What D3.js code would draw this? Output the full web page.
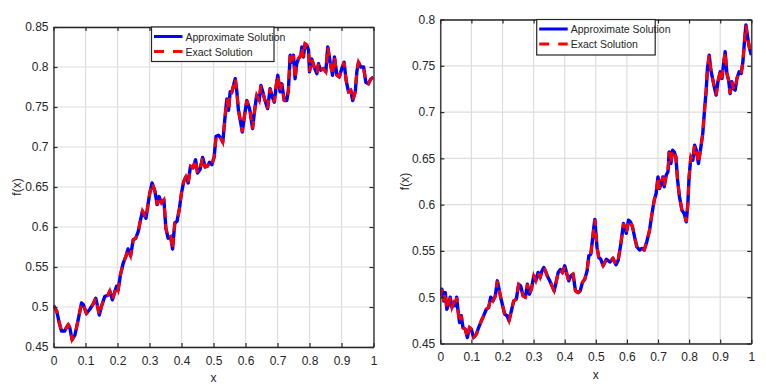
<!DOCTYPE html>
<html>
<head>
<meta charset="utf-8">
<script src="https://cdn.jsdelivr.net/npm/d3@7"></script>
<style>
  body { margin: 0; background: #fff; }
  svg text { font-family: "Liberation Sans Narrow", "Arial Narrow", "Liberation Sans", Arial, sans-serif; fill: #262626; }
</style>
</head>
<body>
<svg id="chart" width="766" height="386"></svg>
<script>
// left panel
var leftX = [0, 0.01, 0.018, 0.025, 0.035, 0.04, 0.046, 0.051, 0.058, 0.067, 0.077, 0.0875, 0.093, 0.103, 0.114, 0.124, 0.132, 0.137, 0.143, 0.15,
  0.16, 0.171, 0.176, 0.184, 0.19, 0.197, 0.202, 0.209, 0.218, 0.226, 0.233, 0.241, 0.249, 0.257, 0.265, 0.27, 0.278, 0.289, 0.296, 0.301,
  0.308, 0.317, 0.324, 0.33, 0.3375, 0.345, 0.351, 0.358, 0.366, 0.372, 0.379, 0.386, 0.393, 0.4, 0.407, 0.414, 0.421, 0.428, 0.436, 0.444,
  0.45, 0.458, 0.466, 0.474, 0.481, 0.4875, 0.495, 0.502, 0.508, 0.5156, 0.523, 0.529, 0.536, 0.5417, 0.547, 0.552, 0.557, 0.5625, 0.568, 0.573,
  0.578, 0.583, 0.59, 0.597, 0.604, 0.611, 0.6146, 0.622, 0.628, 0.635, 0.643, 0.648, 0.654, 0.661, 0.669, 0.677, 0.682, 0.69, 0.696, 0.701,
  0.708, 0.7135, 0.721, 0.729, 0.734, 0.7396, 0.745, 0.75, 0.755, 0.76, 0.7656, 0.773, 0.776, 0.781, 0.786, 0.7917, 0.797, 0.8, 0.807, 0.8146,
  0.823, 0.828, 0.835, 0.844, 0.851, 0.857, 0.8646, 0.872, 0.878, 0.8854, 0.893, 0.901, 0.908, 0.9146, 0.922, 0.929, 0.935, 0.943, 0.948, 0.953,
  0.96, 0.969, 0.976, 0.984, 0.9917, 1.0];
var leftExact = [0.502, 0.495, 0.48, 0.47, 0.47, 0.474, 0.478, 0.474, 0.459, 0.465, 0.484, 0.505, 0.503, 0.492, 0.4975, 0.504, 0.511, 0.502, 0.49, 0.501,
  0.513, 0.515, 0.52, 0.509, 0.517, 0.526, 0.521, 0.54, 0.555, 0.563, 0.5725, 0.564, 0.584, 0.586, 0.5946, 0.605, 0.62, 0.611, 0.63, 0.6425,
  0.655, 0.6446, 0.628, 0.638, 0.63, 0.634, 0.599, 0.586, 0.588, 0.5725, 0.605, 0.607, 0.6217, 0.6425, 0.657, 0.663, 0.655, 0.676, 0.674, 0.684,
  0.6675, 0.672, 0.687, 0.675, 0.676, 0.681, 0.678, 0.6875, 0.7133, 0.7146, 0.711, 0.706, 0.7375, 0.76, 0.7458, 0.769, 0.768, 0.777, 0.7854, 0.769,
  0.7458, 0.735, 0.7188, 0.7396, 0.758, 0.75, 0.7438, 0.723, 0.744, 0.7646, 0.758, 0.777, 0.769, 0.758, 0.748, 0.773, 0.7646, 0.756, 0.777, 0.7896,
  0.769, 0.779, 0.758, 0.758, 0.7708, 0.8146, 0.806, 0.8146, 0.7854, 0.804, 0.8104, 0.8146, 0.825, 0.8125, 0.829, 0.827, 0.821, 0.794, 0.81, 0.8,
  0.7917, 0.804, 0.796, 0.798, 0.794, 0.825, 0.806, 0.7896, 0.8125, 0.79, 0.7875, 0.798, 0.806, 0.783, 0.769, 0.771, 0.758, 0.769, 0.794, 0.806,
  0.8, 0.8, 0.781, 0.779, 0.785, 0.7875];
var leftApprox = leftExact.slice();

// right panel
var rightX = [0, 0.005, 0.011, 0.016, 0.021, 0.027, 0.032, 0.0375, 0.043, 0.048, 0.0526, 0.057, 0.062, 0.0676, 0.073, 0.08, 0.087, 0.094, 0.0998, 0.107,
  0.116, 0.123, 0.132, 0.1395, 0.148, 0.1556, 0.162, 0.1695, 0.177, 0.1835, 0.188, 0.194, 0.2017, 0.207, 0.2146, 0.221, 0.2285, 0.236, 0.2446, 0.252,
  0.2586, 0.266, 0.2736, 0.28, 0.2865, 0.293, 0.3004, 0.307, 0.3144, 0.321, 0.327, 0.3326, 0.338, 0.344, 0.352, 0.3594, 0.366, 0.371, 0.379, 0.386,
  0.3927, 0.4, 0.4056, 0.413, 0.4195, 0.427, 0.4345, 0.443, 0.45, 0.457, 0.4646, 0.472, 0.4775, 0.484, 0.489, 0.4936, 0.497, 0.5, 0.504, 0.5096,
  0.516, 0.5236, 0.534, 0.545, 0.555, 0.565, 0.572, 0.5807, 0.589, 0.598, 0.6053, 0.6107, 0.618, 0.6246, 0.632, 0.6407, 0.648, 0.6557, 0.664, 0.673,
  0.68, 0.688, 0.694, 0.7, 0.705, 0.71, 0.7158, 0.72, 0.7265, 0.732, 0.736, 0.7415, 0.7468, 0.752, 0.7575, 0.763, 0.769, 0.777, 0.784, 0.791,
  0.796, 0.8, 0.8058, 0.812, 0.8176, 0.823, 0.83, 0.838, 0.844, 0.85, 0.855, 0.859, 0.8647, 0.87, 0.8765, 0.882, 0.887, 0.8926, 0.9, 0.9055,
  0.911, 0.916, 0.9215, 0.927, 0.932, 0.9376, 0.943, 0.948, 0.9537, 0.961, 0.9676, 0.973, 0.978, 0.9826, 0.988, 0.9933, 1.0];
var rightExact = [0.5015, 0.5087, 0.496, 0.505, 0.487, 0.4925, 0.5, 0.489, 0.494, 0.4907, 0.5, 0.4853, 0.4727, 0.48, 0.467, 0.4655, 0.4565, 0.4673, 0.4655, 0.4565,
  0.46, 0.467, 0.4745, 0.48, 0.487, 0.489, 0.5, 0.496, 0.5015, 0.5177, 0.5105, 0.5, 0.489, 0.4817, 0.48, 0.4745, 0.4853, 0.496, 0.498, 0.514,
  0.512, 0.5015, 0.5, 0.514, 0.5033, 0.5087, 0.523, 0.5177, 0.5267, 0.5213, 0.5285, 0.532, 0.5285, 0.523, 0.5177, 0.512, 0.507, 0.514, 0.5267, 0.53,
  0.5267, 0.534, 0.5267, 0.5177, 0.523, 0.525, 0.507, 0.505, 0.507, 0.516, 0.5195, 0.5285, 0.5447, 0.5465, 0.561, 0.5753, 0.584, 0.57, 0.5537, 0.543,
  0.541, 0.534, 0.541, 0.538, 0.542, 0.535, 0.54, 0.5581, 0.5797, 0.569, 0.5833, 0.5815, 0.5761, 0.5653, 0.5545, 0.551, 0.5527, 0.551, 0.56, 0.5725,
  0.5887, 0.605, 0.612, 0.63, 0.6175, 0.623, 0.63, 0.6193, 0.632, 0.6355, 0.657, 0.6445, 0.6589, 0.657, 0.6517, 0.6265, 0.6085, 0.594, 0.5905, 0.5815,
  0.601, 0.63, 0.6517, 0.648, 0.6643, 0.6589, 0.6445, 0.6625, 0.677, 0.7039, 0.7237, 0.7471, 0.7615, 0.7453, 0.7345, 0.7255, 0.7183, 0.7327, 0.7435, 0.7363,
  0.7525, 0.7651, 0.7417, 0.7345, 0.72, 0.7327, 0.7255, 0.7237, 0.7363, 0.7435, 0.7417, 0.7543, 0.776, 0.794, 0.7813, 0.7705, 0.7615];
var rightApprox = rightExact.slice();

var xTicks = [0, 0.1, 0.2, 0.3, 0.4, 0.5, 0.6, 0.7, 0.8, 0.9, 1];
var leftYTicks = [0.45, 0.5, 0.55, 0.6, 0.65, 0.7, 0.75, 0.8, 0.85];
var rightYTicks = [0.45, 0.5, 0.55, 0.6, 0.65, 0.7, 0.75, 0.8];
var seriesNames = ["Approximate Solution", "Exact Solution"];

var svg = d3.select("#chart");

var panels = [
  {id: "L", left: 53.5, top: 27, width: 320, height: 320, xs: leftX, approx: leftApprox, exact: leftExact,
   yDomain: [0.45, 0.85], yTicks: leftYTicks, legend: {x: 151.5, w: 122.5, h: 34.5}, yLabelX: 21},
  {id: "R", left: 440.3, top: 19.5, width: 311, height: 324, xs: rightX, approx: rightApprox, exact: rightExact,
   yDomain: [0.45, 0.8], yTicks: rightYTicks, legend: {x: 536.7, w: 118.5, h: 35.5}, yLabelX: 409}
];

panels.forEach(drawPanel);

function fmt(d) {
  return d3.format("~g")(+d.toFixed(2));
}

function drawPanel(p) {
  var x = d3.scaleLinear().domain([0, 1]).range([0, p.width]);
  var y = d3.scaleLinear().domain(p.yDomain).range([p.height, 0]);

  var g = svg.append("g").attr("transform", "translate(" + p.left + "," + p.top + ")");

  g.append("clipPath").attr("id", "clip" + p.id)
    .append("rect").attr("width", p.width).attr("height", p.height);

  // grid
  g.selectAll(".vgrid").data(xTicks).enter().append("line")
    .attr("x1", function(d) { return x(d); }).attr("x2", function(d) { return x(d); })
    .attr("y1", 0).attr("y2", p.height)
    .attr("stroke", "#dedede").attr("stroke-width", 1.2);
  g.selectAll(".hgrid").data(p.yTicks).enter().append("line")
    .attr("y1", function(d) { return y(d); }).attr("y2", function(d) { return y(d); })
    .attr("x1", 0).attr("x2", p.width)
    .attr("stroke", "#dedede").attr("stroke-width", 1.2);

  var line = d3.line()
    .x(function(d, i) { return x(p.xs[i]); })
    .y(function(d) { return y(d); });

  var plot = g.append("g").attr("clip-path", "url(#clip" + p.id + ")");
  plot.append("path").datum(p.approx)
    .attr("d", line).attr("fill", "none")
    .attr("stroke", "#0000ff").attr("stroke-width", 3.4)
    .attr("stroke-linejoin", "round");
  plot.append("path").datum(p.exact)
    .attr("d", line).attr("fill", "none")
    .attr("stroke", "#ff0000").attr("stroke-width", 3)
    .attr("stroke-dasharray", "9,7");

  // axes (ticks inward, on all four sides)
  var xAxisB = d3.axisBottom(x).tickValues(xTicks).tickSizeInner(-4).tickSizeOuter(0).tickPadding(9).tickFormat(fmt);
  var xAxisT = d3.axisTop(x).tickValues(xTicks).tickSizeInner(-4).tickSizeOuter(0).tickFormat("");
  var yAxisL = d3.axisLeft(y).tickValues(p.yTicks).tickSizeInner(-4).tickSizeOuter(0).tickPadding(5).tickFormat(fmt);
  var yAxisR = d3.axisRight(y).tickValues(p.yTicks).tickSizeInner(-4).tickSizeOuter(0).tickFormat("");

  g.append("g").attr("transform", "translate(0," + p.height + ")").call(xAxisB);
  g.append("g").call(xAxisT);
  g.append("g").call(yAxisL);
  g.append("g").attr("transform", "translate(" + p.width + ",0)").call(yAxisR);

  g.selectAll(".domain").attr("stroke", "#262626").attr("stroke-width", 1.3);
  g.selectAll(".tick line").attr("stroke", "#262626").attr("stroke-width", 1.2);
  g.selectAll(".tick text").attr("font-size", 12).style("font-family", null).attr("fill", "#262626");

  // axis labels
  svg.append("text").attr("x", p.left + p.width / 2).attr("y", p.top + p.height + 35)
    .attr("text-anchor", "middle").attr("font-size", 12).text("x");
  svg.append("text").attr("transform", "translate(" + p.yLabelX + "," + (p.top + p.height / 2) + ") rotate(-90)")
    .attr("text-anchor", "middle").attr("font-size", 12).text("f(x)");

  // legend
  var lg = svg.append("g").attr("transform", "translate(" + p.legend.x + "," + p.top + ")");
  lg.append("rect").attr("width", p.legend.w).attr("height", p.legend.h)
    .attr("fill", "#fff").attr("stroke", "#262626").attr("stroke-width", 1.2);
  var rowY = [9.5, 24.5];
  seriesNames.forEach(function(name, i) {
    lg.append("line").attr("x1", 2.5).attr("x2", 31).attr("y1", rowY[i]).attr("y2", rowY[i])
      .attr("stroke", i == 0 ? "#0000ff" : "#ff0000").attr("stroke-width", 3)
      .attr("stroke-dasharray", i == 0 ? null : "10,9");
    lg.append("text").attr("x", 34).attr("y", rowY[i] + 4).attr("font-size", 10.5).text(name);
  });
}
</script>
</body>
</html>
